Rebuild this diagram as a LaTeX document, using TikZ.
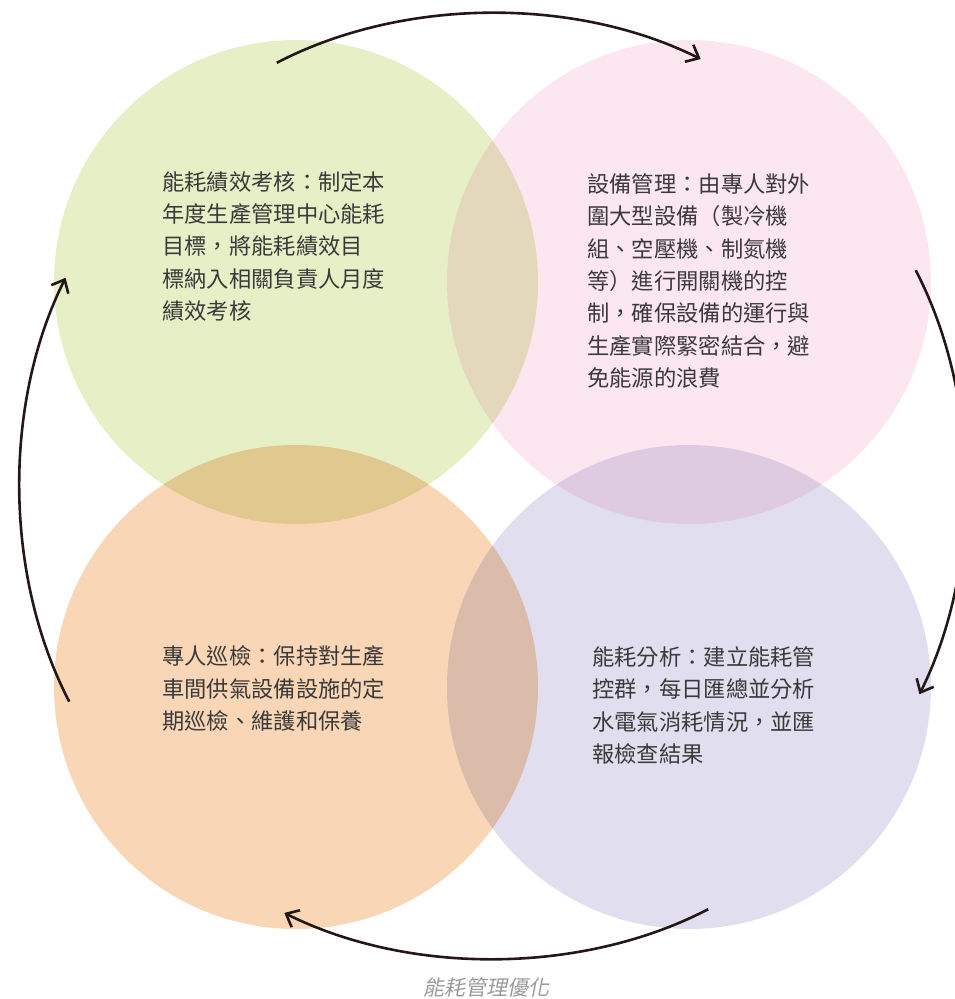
\documentclass[tikz,border=0pt]{standalone}
\usepackage{fontspec}
\usetikzlibrary{calc}
\usetikzlibrary{positioning}
\usetikzlibrary{arrows.meta}
\newfontfamily\cjk{Noto Sans CJK TC}
\newfontfamily\cjkslant{Noto Sans CJK TC}[FakeSlant=0.2]
\definecolor{leaf}{HTML}{E7EFC7}
\definecolor{blush}{HTML}{FCE7F1}
\definecolor{peach}{HTML}{F9D6B6}
\definecolor{lilac}{HTML}{E1DFEF}
\definecolor{ink}{HTML}{3A3A3A}
\definecolor{loopink}{HTML}{231815}
\definecolor{captiongray}{HTML}{9A9A9A}

\begin{document}
\begin{tikzpicture}[x=1pt, y=1pt, style={align=left, inner sep=0pt},
		disc/.style={circle, minimum size=484pt, inner sep=0pt},
		note/.style={anchor=base west, text=ink, font=\cjk\fontsize{22.3}{32.3}\selectfont},
		loop/.style={draw=loopink, line width=2.6pt, bend left=27, looseness=0.85, -{Straight Barb[length=11pt, width=19pt]}}]
		\useasboundingbox (0,0) rectangle (955,999);
		\begin{scope}[blend group=multiply]
		\node[disc, fill=leaf] (kpi) at (296,717) {};
		\node[disc, fill=blush] (equip) at (689,717) {};
		\node[disc, fill=peach] (patrol) at (296,312) {};
		\node[disc, fill=lilac] (analysis) at (689,312) {};
		\end{scope}
		\node[note] (kpitext) at (162,679.5) {能耗績效考核：制定本\\年度生產管理中心能耗\\目標，將能耗績效目\\標納入相關負責人月度\\績效考核};
		\node[note] (equiptext) at (587,612.5) {設備管理：由專人對外\\圍大型設備（製冷機\\組、空壓機、制氮機\\等）進行開關機的控\\制，確保設備的運行與\\生產實際緊密結合，避\\免能源的浪費};
		\node[note] (patroltext) at (162,269.5) {專人巡檢：保持對生產\\車間供氣設備設施的定\\期巡檢、維護和保養};
		\node[note] (analysistext) at (592,236.5) {能耗分析：建立能耗管\\控群，每日匯總並分析\\水電氣消耗情況，並匯\\報檢查結果};
		\node[anchor=base, text=captiongray, font=\cjkslant\fontsize{21}{24}\selectfont] (caption) at (486,4) {能耗管理優化};
		\coordinate (hub) at (492.5,513);
		\coordinate (t1) at ($(hub)+(117:475)$);
		\coordinate (t2) at ($(hub)+(64:475)$);
		\coordinate (r1) at ($(hub)+(27:475)$);
		\coordinate (r2) at ($(hub)+(-26:475)$);
		\coordinate (b1) at ($(hub)+(-63:475)$);
		\coordinate (b2) at ($(hub)+(-116:475)$);
		\coordinate (l1) at ($(hub)+(207:475)$);
		\coordinate (l2) at ($(hub)+(154:475)$);
		\draw[loop] (t1) to (t2);
		\draw[loop] (r1) to (r2);
		\draw[loop] (b1) to (b2);
		\draw[loop] (l1) to (l2);
\end{tikzpicture}
\end{document}
